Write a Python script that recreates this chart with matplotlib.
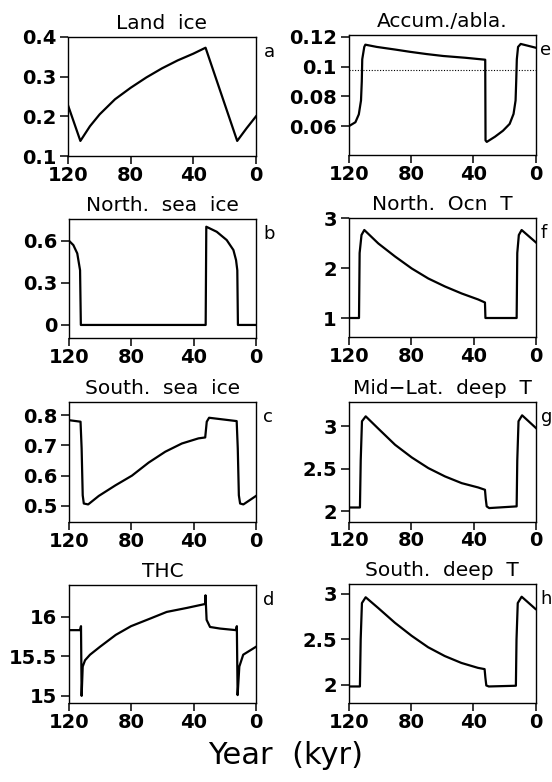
import matplotlib
matplotlib.use("Agg")
from matplotlib import pyplot as plt
from matplotlib.ticker import FuncFormatter

# a) Land ice
landT = [120, 112.1, 106, 99.8, 90, 80, 70, 60, 50, 40, 32.2, 12, 6, 0]
landV = [0.228, 0.138, 0.175, 0.205, 0.243, 0.272, 0.298, 0.321, 0.341, 0.358, 0.373, 0.138, 0.170, 0.200]

# b) North. sea ice
nsiT = [120, 117.2, 114.7, 112.9, 112.4, 32.3, 31.9, 25.2, 18.8, 14.5, 12.8, 12.0, 11.6, 0]
nsiV = [0.60, 0.569, 0.51, 0.39, 0.0, 0.0, 0.70, 0.664, 0.605, 0.534, 0.462, 0.39, 0.0, 0.0]

# c) South. sea ice
ssiT = [120, 112.6, 111.9, 111.2, 110.5, 107.7, 100.9, 90.2, 79.6, 68.9, 58.2, 47.6, 36.9, 32.6, 31.6, 30.1, 12.4, 11.7, 11.0, 10.2, 8.1, 0]
ssiV = [0.783, 0.778, 0.690, 0.535, 0.508, 0.505, 0.533, 0.568, 0.600, 0.643, 0.679, 0.706, 0.723, 0.726, 0.778, 0.791, 0.780, 0.690, 0.535, 0.508, 0.505, 0.533]

# d) THC
thcT = [120, 112.9, 112.3, 111.9, 111.2, 109.7, 106.5, 100.1, 90, 80.2, 67.4, 57.3, 44.5, 32.7, 32.4, 31.7, 29.5, 23.1, 12.9, 12.3, 11.8, 10.7, 8.2, 0]
thcV = [15.83, 15.83, 15.88, 15.0, 15.37, 15.45, 15.52, 15.62, 15.77, 15.88, 15.98, 16.06, 16.11, 16.16, 16.27, 15.96, 15.87, 15.85, 15.83, 15.88, 15.01, 15.37, 15.52, 15.62]

# e) Accum./abla.
accT = [120, 115.7, 113.5, 112.1, 111.6, 111.3, 110, 109.3, 102, 90, 80.6, 70, 59.3, 45, 32.3, 32.1, 31.3, 26, 20.9, 16.6, 14.1, 12.8, 12.4, 12.0, 11.2, 9.5, 0]
accV = [0.060, 0.0627, 0.068, 0.0773, 0.090, 0.105, 0.1133, 0.1148, 0.1133, 0.1115, 0.110, 0.1085, 0.1072, 0.106, 0.1047, 0.0505, 0.0495, 0.053, 0.057, 0.0616, 0.0683, 0.0773, 0.090, 0.105, 0.1133, 0.1153, 0.1128]
accRef = 0.098

# f) North. Ocn T
notT = [120, 113.4, 113.0, 111.8, 110.0, 101.0, 90.3, 79.6, 69.0, 58.3, 47.6, 37.0, 32.7, 32.4, 12.4, 12.0, 11.0, 9.2, 0]
notV = [1.0, 1.0, 2.3, 2.66, 2.76, 2.49, 2.23, 1.99, 1.79, 1.63, 1.49, 1.37, 1.31, 1.0, 1.0, 2.3, 2.66, 2.76, 2.51]

# g) Mid-Lat. deep T
mdtT = [120, 112.8, 112.3, 111.5, 109.1, 101.0, 90.3, 79.6, 69.0, 58.3, 47.6, 37.0, 32.7, 32.2, 31.6, 30.0, 12.4, 12.0, 11.2, 8.9, 0]
mdtV = [2.047, 2.047, 2.6, 3.06, 3.118, 2.973, 2.784, 2.635, 2.51, 2.412, 2.333, 2.282, 2.255, 2.15, 2.06, 2.04, 2.06, 2.6, 3.06, 3.13, 2.98]

# h) South. deep T
sdtT = [120, 112.8, 112.3, 111.5, 109.1, 101.0, 90.3, 79.6, 69.0, 58.3, 47.6, 37.0, 32.7, 32.2, 31.6, 30.0, 12.6, 12.2, 11.4, 8.9, 0]
sdtV = [1.982, 1.982, 2.5, 2.9, 2.964, 2.845, 2.683, 2.54, 2.414, 2.317, 2.241, 2.187, 2.173, 2.08, 1.993, 1.982, 1.99, 2.5, 2.9, 2.97, 2.835]

xTicks = [120, 80, 40, 0]

W, H = 552, 782


def axPos(left, top, right, bottom):
    # pixel box -> figure fraction
    return [left / W, 1 - bottom / H, (right - left) / W, (bottom - top) / H]


def drawPanel(fig, box, t, v, title, letter, ylim, yticks, letterX=1.04):
    ax = fig.add_axes(axPos(*box))
    ax.plot(t, v, color='black', lw=1.6)
    ax.set_xlim(120, 0)
    ax.set_ylim(*ylim)
    ax.set_xticks(xTicks)
    ax.set_yticks(yticks)
    ax.yaxis.set_major_formatter(FuncFormatter(lambda val, pos: '%g' % val))
    ax.tick_params(direction='out', length=5.5, width=1.1, labelsize=14, pad=3)
    ax.tick_params(axis='x', pad=1.5)
    for lab in ax.get_xticklabels() + ax.get_yticklabels():
        lab.set_fontweight('bold')
    for s in ax.spines.values():
        s.set_linewidth(1.0)
    ax.set_title(title, fontsize=14.5, pad=5.5)
    ax.text(letterX, 0.875, letter, transform=ax.transAxes, fontsize=13,
            ha='left', va='center')
    return ax


fig = plt.figure(figsize=(W / 100, H / 100), dpi=100)

drawPanel(fig, (68, 37, 256, 156), landT, landV, 'Land  ice', 'a', (0.1, 0.4), [0.1, 0.2, 0.3, 0.4])
drawPanel(fig, (69, 219, 256, 338), nsiT, nsiV, 'North.  sea  ice', 'b', (-0.093, 0.755), [0, 0.3, 0.6])
drawPanel(fig, (69, 402, 256, 522), ssiT, ssiV, 'South.  sea  ice', 'c', (0.447, 0.843), [0.5, 0.6, 0.7, 0.8])
drawPanel(fig, (69, 585, 256, 703), thcT, thcV, 'THC', 'd', (14.91, 16.4), [15, 15.5, 16])

axE = drawPanel(fig, (348.7, 35, 535.5, 155), accT, accV, 'Accum./abla.', 'e',
                (0.0407, 0.1213), [0.06, 0.08, 0.1, 0.12], letterX=1.025)
axE.axhline(accRef, color='black', lw=0.8, ls=(0, (1, 1.5)))
drawPanel(fig, (348.7, 218, 536, 337), notT, notV, 'North.  Ocn  T', 'f',
          (0.62, 3.0), [1, 2, 3], letterX=1.025)
drawPanel(fig, (348.7, 401.7, 536, 521.7), mdtT, mdtV, 'Mid\u2212Lat.  deep  T', 'g',
          (1.88, 3.29), [2, 2.5, 3], letterX=1.025)
drawPanel(fig, (348.7, 584, 535.5, 703), sdtT, sdtV, 'South.  deep  T', 'h',
          (1.80, 3.11), [2, 2.5, 3], letterX=1.025)

fig.text(0.518, 0.0345, 'Year  (kyr)', fontsize=22, ha='center', va='center')

fig.savefig('out.png', dpi=100)
